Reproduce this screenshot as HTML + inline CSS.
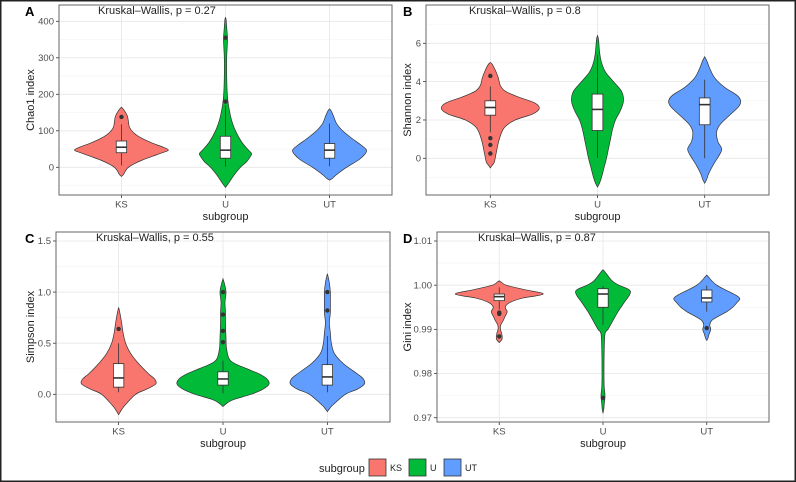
<!DOCTYPE html>
<html><head><meta charset="utf-8"><style>
html,body{margin:0;padding:0;background:#fff}
svg{display:block;font-family:"Liberation Sans",sans-serif}
</style></head><body>
<svg id="fig" width="796" height="482" viewBox="0 0 796 482"></svg>
<script>
const categories=["KS","U","UT"];
const colors=["#F8766D","#00BA38","#619CFF"];
// Panel A - Chao1
const chaoTicks=[0,100,200,300,400];
const chaoViolinKS=[[-25,0],[-20,2],[-10,4],[0,7],[10,13],[20,21],[30,31],[40,41],[47,47],[55,42],[65,32],[80,20],[95,12],[110,8],[125,7],[140,6],[155,3],[162,1],[165,0]];
const chaoViolinU=[[-55,0],[-48,2],[-40,4],[-20,9],[0,15],[15,21],[30,25],[38,26],[50,22],[70,16],[100,10],[130,6],[170,3],[200,1.8],[250,1.2],[300,1.2],[350,2],[380,1.3],[405,0.6],[410,0]];
const chaoViolinUT=[[-35,0],[-30,3],[-20,7],[0,17],[20,29],[35,35],[47,37],[60,32],[80,22],[100,13],[120,7],[140,4],[155,1.5],[160,0]];
const chaoBoxes=[[5,40,55,72,118],[2,25,47,85,170],[3,25,47,65,120]];
const chaoOutliers=[[138],[180,355],[]];
// Panel B - Shannon
const shannonTicks=[0,2,4,6];
const shannonViolinKS=[[-0.5,0],[-0.35,2],[-0.2,4],[0.3,6],[1,9],[1.6,14],[2,25],[2.3,42],[2.6,49],[2.9,44],[3.2,28],[3.5,15],[3.8,10],[4.2,8],[4.6,5],[4.9,2],[5,0]];
const shannonViolinU=[[-1.5,0],[-1.3,2],[-1,4],[-0.5,6.5],[0,9],[0.5,11],[1,13],[1.5,15],[2,18],[2.5,23],[3,26],[3.5,24],[4,16],[4.5,8],[5,4],[5.5,2.2],[6.2,1],[6.4,0]];
const shannonViolinUT=[[-1.3,0],[-1.1,2],[-0.8,4],[-0.3,9],[0.2,15],[0.5,17],[0.9,13],[1.4,12],[1.8,16],[2.3,26],[2.7,34],[3,36],[3.3,32],[3.7,20],[4.2,10],[4.7,5],[5.1,2],[5.3,0]];
const shannonBoxes=[[1.35,2.25,2.65,3.0,3.75],[0,1.45,2.55,3.35,5.4],[0,1.75,2.8,3.15,4.1]];
const shannonOutliers=[[4.3,1.05,0.7,0.25],[],[]];
// Panel C - Simpson
const simpsonTicks=[0,0.5,1.0,1.5];
const simpsonViolinKS=[[-0.2,0],[-0.15,3],[-0.1,7],[0,17],[0.05,28],[0.1,37],[0.15,36],[0.2,30],[0.3,20],[0.4,12],[0.5,7],[0.6,4.5],[0.7,3],[0.8,1.2],[0.85,0]];
const simpsonViolinU=[[-0.12,0],[-0.08,5],[-0.05,11],[0,28],[0.05,40],[0.1,46],[0.15,44],[0.2,36],[0.25,24],[0.3,12],[0.35,6],[0.45,3.5],[0.55,3],[0.7,2.5],[0.8,2.5],[0.9,2],[1,3],[1.08,1.5],[1.13,0]];
const simpsonViolinUT=[[-0.17,0],[-0.13,3],[-0.1,6],[0,18],[0.05,30],[0.1,37],[0.15,36],[0.2,30],[0.3,16],[0.4,7],[0.5,4],[0.6,3],[0.7,2],[0.8,3],[0.9,3],[1,3],[1.1,1.8],[1.18,0]];
const simpsonBoxes=[[0.02,0.07,0.16,0.3,0.5],[0.01,0.09,0.15,0.22,0.33],[0.02,0.09,0.17,0.29,0.57]];
const simpsonOutliers=[[0.64],[0.51,0.62,0.78,1.0],[0.82,1.0]];
// Panel D - Gini
const giniTicks=[0.97,0.98,0.99,1.00,1.01];
const giniViolinKS=[[0.987,0],[0.9875,2],[0.988,3],[0.989,2.5],[0.990,1.2],[0.991,1.5],[0.992,4],[0.993,6],[0.994,8],[0.995,6],[0.996,10],[0.997,22],[0.998,44],[0.999,25],[1.000,7],[1.0007,2],[1.001,0]];
const giniViolinU=[[0.971,0],[0.972,0.8],[0.973,1.2],[0.975,2],[0.977,1.2],[0.98,1],[0.985,1.2],[0.989,2],[0.99,5],[0.992,10],[0.994,15],[0.996,21],[0.998,27],[0.999,26],[1.0,16],[1.001,9],[1.003,2],[1.0035,0]];
const giniViolinUT=[[0.9875,0],[0.988,1.2],[0.989,2.5],[0.990,4],[0.991,3],[0.992,5],[0.993,12],[0.994,20],[0.995,26],[0.996,30],[0.997,33],[0.998,27],[0.999,18],[1.000,10],[1.001,5],[1.0018,2],[1.0023,0]];
const giniBoxes=[[0.9945,0.9965,0.9974,0.998,0.9995],[0.991,0.995,0.998,0.9992,0.9998],[0.994,0.9962,0.9971,0.9989,0.9999]];
const giniOutliers=[[0.9935,0.9938,0.9884],[0.9745],[0.9903]];

const NS="http://www.w3.org/2000/svg";
const svg=document.getElementById('fig');
function mk(tag,attrs,parent){const e=document.createElementNS(NS,tag);for(const k in attrs)e.setAttribute(k,attrs[k]);(parent||svg).appendChild(e);return e;}
function smooth(pts){let d="M"+pts[0][0].toFixed(2)+","+pts[0][1].toFixed(2);
 for(let i=0;i<pts.length-1;i++){const p0=pts[i-1]||pts[i],p1=pts[i],p2=pts[i+1],p3=pts[i+2]||p2;
  const c1=[p1[0]+(p2[0]-p0[0])/6,p1[1]+(p2[1]-p0[1])/6],c2=[p2[0]-(p3[0]-p1[0])/6,p2[1]-(p3[1]-p1[1])/6];
  d+=" C"+c1.map(v=>v.toFixed(2))+" "+c2.map(v=>v.toFixed(2))+" "+p2.map(v=>v.toFixed(2));}
 return d;}

function panel(cfg){
 const g=mk('g',{});
 
 
 const {x0,x1,y0,y1}=cfg;
 const ys=v=>cfg.yA+(v-cfg.vA)*(cfg.yB-cfg.yA)/(cfg.vB-cfg.vA);
 const unit=(x1-x0)/3.2;
 const xs=i=>x0+(0.6+i)*unit;
 mk('rect',{x:x0,y:y0,width:x1-x0,height:y1-y0,fill:'#fff'},g);
 const step=cfg.ticks[1]-cfg.ticks[0];
 for(let k=-10;k<20;k++){const v=cfg.ticks[0]+(k+0.5)*step;const y=ys(v);if(y>y0&&y<y1)mk('line',{x1:x0,x2:x1,y1:y,y2:y,stroke:'#f3f3f3','stroke-width':0.6},g);}
 cfg.ticks.forEach(t=>{const y=ys(t);
  const gl=mk('line',{x1:x0,x2:x1,y1:y,y2:y,stroke:'#e6e6e6','stroke-width':0.8},g);
  
  mk('line',{x1:x0-3,x2:x0,y1:y,y2:y,stroke:'#333','stroke-width':0.8},g);
  const tl=mk('text',{x:x0-5,y:y+3.2,'text-anchor':'end','font-size':9.5,fill:'#4d4d4d'},g);tl.textContent=cfg.fmt(t);
  });
 categories.forEach((c,i)=>{const x=xs(i);
  mk('line',{x1:x,x2:x,y1:y0,y2:y1,stroke:'#e6e6e6','stroke-width':0.8},g);
  mk('line',{x1:x,x2:x,y1:y1,y2:y1+3,stroke:'#333','stroke-width':0.8},g);
  const tl=mk('text',{x:x,y:y1+12.5,'text-anchor':'middle','font-size':9.5,fill:'#4d4d4d'},g);tl.textContent=c;
  });
 cfg.violins.forEach((prof,i)=>{const cx=xs(i);
  const right=prof.map(p=>[cx+p[1],ys(p[0])]);const left=prof.slice().reverse().map(p=>[cx-p[1],ys(p[0])]);
  const d=smooth(right)+" L"+smooth(left).slice(1)+" Z";
  const v=mk('path',{d:d,fill:colors[i],stroke:'#333','stroke-width':0.7},g);
  
  const b=cfg.boxes[i];const hw=unit*0.05;
  mk('line',{x1:cx,x2:cx,y1:ys(b[0]),y2:ys(b[4]),stroke:'#333','stroke-width':0.8},g);
  const bx=mk('rect',{x:cx-hw,y:ys(b[3]),width:2*hw,height:ys(b[1])-ys(b[3]),fill:'#fff',stroke:'#333','stroke-width':0.8},g);
  
  mk('line',{x1:cx-hw,x2:cx+hw,y1:ys(b[2]),y2:ys(b[2]),stroke:'#333','stroke-width':1.6},g);
  cfg.outliers[i].forEach(o=>{const pt=mk('circle',{cx:cx,cy:ys(o),r:2.2,fill:'#333'},g);
   });
 });
 mk('rect',{x:x0,y:y0,width:x1-x0,height:y1-y0,fill:'none',stroke:'#666','stroke-width':1},g);
 const xt=mk('text',{x:(x0+x1)/2,y:y1+25,'text-anchor':'middle','font-size':11,fill:'#222'},g);xt.textContent='subgroup';
 
 const yc=(y0+y1)/2;
 const yt=mk('text',{x:cfg.ytx,y:yc,'text-anchor':'middle','font-size':11,fill:'#222',transform:`rotate(-90 ${cfg.ytx} ${yc})`},g);yt.textContent=cfg.ytitle;
 
 const kw=mk('text',{x:cfg.kx,y:y0+9,'font-size':11,fill:'#222'},g);kw.textContent=cfg.kw;
 
 const lt=mk('text',{x:cfg.lx,y:y0+11,'font-size':13,'font-weight':'bold',fill:'#000'},g);lt.textContent=cfg.letter;
 
}
const f0=v=>String(v), f1=v=>v.toFixed(1), f2=v=>v.toFixed(2);
panel({letter:'A',x0:59,x1:392,y0:5,y1:195,vA:0,yA:167.3,vB:400,yB:21.3,ticks:chaoTicks,fmt:f0,violins:[chaoViolinKS,chaoViolinU,chaoViolinUT],boxes:chaoBoxes,outliers:chaoOutliers,ytitle:'Chao1 index',ytx:34,kx:98,kw:'Kruskal–Wallis, p = 0.27',lx:25});
panel({letter:'B',x0:426,x1:769,y0:5,y1:195,vA:0,yA:158.3,vB:6,yB:43.3,ticks:shannonTicks,fmt:f0,violins:[shannonViolinKS,shannonViolinU,shannonViolinUT],boxes:shannonBoxes,outliers:shannonOutliers,ytitle:'Shannon index',ytx:411,kx:469,kw:'Kruskal–Wallis, p = 0.8',lx:403});
panel({letter:'C',x0:56,x1:390,y0:232,y1:422,vA:0,yA:394.3,vB:1.5,yB:241,ticks:simpsonTicks,fmt:f1,violins:[simpsonViolinKS,simpsonViolinU,simpsonViolinUT],boxes:simpsonBoxes,outliers:simpsonOutliers,ytitle:'Simpson index',ytx:34,kx:96,kw:'Kruskal–Wallis, p = 0.55',lx:25});
panel({letter:'D',x0:437,x1:769,y0:232,y1:422,vA:0.97,yA:417.7,vB:1.01,yB:241,ticks:giniTicks,fmt:f2,violins:[giniViolinKS,giniViolinU,giniViolinUT],boxes:giniBoxes,outliers:giniOutliers,ytitle:'Gini index',ytx:411,kx:478,kw:'Kruskal–Wallis, p = 0.87',lx:403});

// Legend
const lg=mk('g',{});


const lgt=mk('text',{x:319,y:472,'font-size':11,fill:'#222'},lg);lgt.textContent='subgroup';
const legX=[369,409,444];
categories.forEach((c,i)=>{
 const r=mk('rect',{x:legX[i],y:459,width:17,height:17,fill:colors[i],stroke:'#333','stroke-width':0.8},lg);
 
 
 const t=mk('text',{x:legX[i]+21,y:471,'font-size':9,fill:'#222'},lg);t.textContent=c;
 
 
});
mk('rect',{x:0.75,y:0.75,width:794.5,height:480.5,fill:'none',stroke:'#222','stroke-width':1.5});
</script>
</body></html>
